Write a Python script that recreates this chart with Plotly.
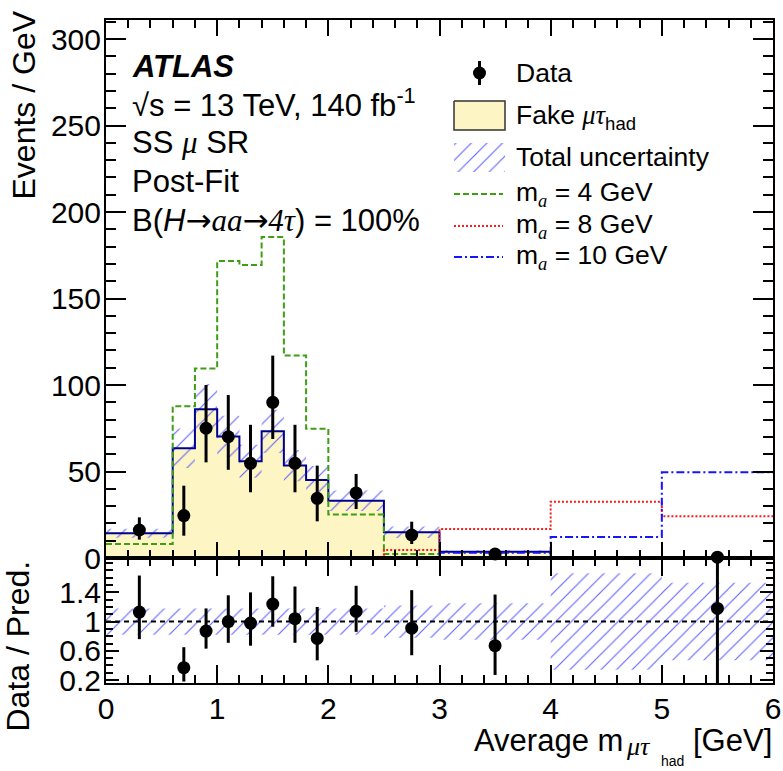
import plotly.graph_objects as go

# ---------------- data ----------------
edges = [0.0, 0.6, 0.8, 1.0, 1.2, 1.4, 1.6, 1.8, 2.0, 2.5, 3.0, 4.0, 5.0, 6.0]
fake = [14.3, 63.4, 86.0, 70.3, 55.9, 73.2, 53.4, 45.1, 33.1, 14.9, 3.6, 0.4, 0.4]
rel_unc = [0.18, 0.18, 0.17, 0.17, 0.17, 0.17, 0.17, 0.18, 0.18, 0.22, 0.25, 0.66, 0.53]
sig_m4 = [8.1, 87.7, 109.6, 171.7, 169.4, 185.5, 117.0, 74.7, 25.2, 2.3, 0.5, 0.1, 0.0]
sig_m8 = [0.1, 0.1, 0.1, 0.1, 0.1, 0.1, 0.1, 0.2, 0.5, 4.6, 16.8, 32.5, 24.1]
sig_m10 = [0.0, 0.0, 0.0, 0.0, 0.0, 0.0, 0.0, 0.1, 0.2, 0.5, 3.0, 12.1, 49.5]

data_x = [0.3, 0.7, 0.9, 1.1, 1.3, 1.5, 1.7, 1.9, 2.25, 2.75, 3.5, 5.5]
data_y = [16.2, 24.5, 75.0, 70.1, 54.7, 90.0, 54.7, 34.5, 37.6, 13.3, 2.3, 0.45]
data_up = [7.3, 17.3, 25.0, 24.1, 22.3, 27.0, 22.3, 18.9, 11.0, 7.7, 1.8, 1.0]
data_dn = [5.6, 11.6, 19.7, 19.1, 16.7, 21.2, 16.7, 13.3, 9.3, 5.2, 1.3, 0.45]

ratio_y = [1.13, 0.37, 0.87, 1.00, 0.98, 1.24, 1.04, 0.77, 1.14, 0.91, 0.67, 1.18]
ratio_up = [0.50, 0.28, 0.31, 0.36, 0.42, 0.38, 0.44, 0.43, 0.35, 0.52, 0.70, 1.00]
ratio_dn = [0.37, 0.19, 0.24, 0.29, 0.31, 0.31, 0.33, 0.30, 0.28, 0.37, 0.40, 1.18]

main_ticks = [0, 50, 100, 150, 200, 250, 300]
ratio_ticks = [0.2, 0.6, 1.0, 1.4]
ratio_ticktext = ["0.2", "0.6", "1", "1.4"]
x_ticks = [0, 1, 2, 3, 4, 5, 6]

# ---------------- style ----------------
W, H = 783, 771
FONT = "Liberation Sans, Arial, Helvetica, sans-serif"
SERIF = "Liberation Serif, Times New Roman, serif"
YELLOW = "#fdf5c3"
NAVY = "#00008f"
GREEN = "#3c9f14"
RED = "#ff1a1a"
BLUE = "#1414ff"
HATCH = "#6262ff"


def P(px):
    return px / W


def Q(py):
    return 1 - py / H


def step(vals):
    return list(vals) + [vals[-1]]


def band(lo_vals, hi_vals):
    xs, ys = [], []
    for i in range(len(lo_vals)):
        xs += [edges[i], edges[i + 1]]
        ys += [hi_vals[i], hi_vals[i]]
    for i in reversed(range(len(lo_vals))):
        xs += [edges[i + 1], edges[i]]
        ys += [lo_vals[i], lo_vals[i]]
    return xs, ys


hatch = dict(shape="/", fgcolor=HATCH, fgopacity=1, bgcolor="rgba(255,255,255,0)", size=11, solidity=0.1)

fig = go.Figure()

# main panel
fig.add_trace(go.Scatter(x=edges, y=step(fake), mode="lines", line_shape="hv",
                         line=dict(width=0, color=YELLOW), fill="tozeroy", fillcolor=YELLOW,
                         xaxis="x", yaxis="y", showlegend=False, hoverinfo="skip"))
bx, by = band([f * (1 - r) for f, r in zip(fake, rel_unc)], [f * (1 + r) for f, r in zip(fake, rel_unc)])
fig.add_trace(go.Scatter(x=bx, y=by, mode="lines", line=dict(width=0), fill="toself",
                         fillcolor="rgba(255,255,255,0)", fillpattern=hatch,
                         xaxis="x", yaxis="y", showlegend=False, hoverinfo="skip"))
fig.add_trace(go.Scatter(x=edges, y=step(fake), mode="lines", line_shape="hv",
                         line=dict(width=2, color=NAVY), xaxis="x", yaxis="y", showlegend=False))
fig.add_trace(go.Scatter(x=edges, y=step(sig_m4), mode="lines", line_shape="hv",
                         line=dict(width=2, color=GREEN, dash="6px,3px"), xaxis="x", yaxis="y", showlegend=False))
fig.add_trace(go.Scatter(x=edges, y=step(sig_m8), mode="lines", line_shape="hv",
                         line=dict(width=2, color=RED, dash="2px,2px"), xaxis="x", yaxis="y", showlegend=False))
fig.add_trace(go.Scatter(x=edges, y=step(sig_m10), mode="lines", line_shape="hv",
                         line=dict(width=2, color=BLUE, dash="8px,3px,2px,3px"), xaxis="x", yaxis="y", showlegend=False))
fig.add_trace(go.Scatter(x=data_x, y=data_y, mode="markers", marker=dict(size=13, color="black"),
                         error_y=dict(type="data", array=data_up, arrayminus=data_dn, color="black",
                                      thickness=3, width=0),
                         cliponaxis=False, xaxis="x", yaxis="y", showlegend=False))

# ratio panel
rx, ry = band([1 - r for r in rel_unc], [1 + r for r in rel_unc])
fig.add_trace(go.Scatter(x=rx, y=ry, mode="lines", line=dict(width=0), fill="toself",
                         fillcolor="rgba(255,255,255,0)", fillpattern=hatch,
                         xaxis="x2", yaxis="y2", showlegend=False, hoverinfo="skip"))
fig.add_trace(go.Scatter(x=[edges[0], edges[-1]], y=[1, 1], mode="lines",
                         line=dict(width=2, color="black", dash="5px,4px"),
                         xaxis="x2", yaxis="y2", showlegend=False))
fig.add_trace(go.Scatter(x=data_x, y=ratio_y, mode="markers", marker=dict(size=13, color="black"),
                         error_y=dict(type="data", array=ratio_up, arrayminus=ratio_dn, color="black",
                                      thickness=3, width=0),
                         xaxis="x2", yaxis="y2", showlegend=False))

# legend symbols on a hidden helper axis (pixel-like units)
LX0, LX1 = 454, 505
fig.add_trace(go.Scatter(x=[(LX0 + LX1) / 2], y=[73], mode="markers", marker=dict(size=13, color="black"),
                         error_y=dict(type="data", array=[12], arrayminus=[12], color="black", thickness=3, width=0),
                         xaxis="x3", yaxis="y3", showlegend=False))
fig.add_trace(go.Scatter(x=[LX0, LX1, LX1, LX0, LX0], y=[101, 101, 130, 130, 101], mode="lines",
                         line=dict(width=1.5, color="#333333"), fill="toself", fillcolor=YELLOW,
                         xaxis="x3", yaxis="y3", showlegend=False))
fig.add_trace(go.Scatter(x=[LX0, LX1, LX1, LX0, LX0], y=[143, 143, 172, 172, 143], mode="lines",
                         line=dict(width=0), fill="toself", fillcolor="rgba(255,255,255,0)", fillpattern=hatch,
                         xaxis="x3", yaxis="y3", showlegend=False))
for yy, col, dsh in [(194, GREEN, "6px,3px"), (226, RED, "2px,2px"), (257, BLUE, "8px,3px,2px,3px")]:
    fig.add_trace(go.Scatter(x=[LX0, LX1 - 2], y=[yy, yy], mode="lines",
                             line=dict(width=2, color=col, dash=dsh),
                             xaxis="x3", yaxis="y3", showlegend=False))

# ---------------- axes ----------------
XL, XR = 106, 773
YT, YM, YB = 20, 558, 683
tickfont = dict(family=FONT, size=30, color="black")
common = dict(showline=True, linecolor="black", linewidth=2, mirror="allticks",
              ticks="inside", showgrid=False, zeroline=False, tickfont=tickfont, tickcolor="black",
              automargin=False)

fig.update_layout(
    width=W, height=H, margin=dict(l=0, r=0, t=0, b=0, pad=0, autoexpand=False),
    paper_bgcolor="white", plot_bgcolor="white",
    font=dict(family=FONT, color="black"),
    xaxis=dict(domain=[P(XL), P(XR)], range=[0, 6], anchor="y", showticklabels=False,
               tickvals=x_ticks, ticklen=16, tickwidth=2,
               minor=dict(dtick=0.2, ticklen=8, tickwidth=1.5, ticks="inside", tickcolor="black"),
               **common),
    yaxis=dict(domain=[Q(YM), Q(YT)], range=[0, 311], anchor="x",
               tickvals=main_ticks, ticklen=20, tickwidth=2, ticklabelstandoff=-3,
               minor=dict(dtick=10, ticklen=10, tickwidth=1.5, ticks="inside", tickcolor="black"),
               **common),
    xaxis2=dict(domain=[P(XL), P(XR)], range=[0, 6], anchor="y2",
                tickvals=x_ticks, ticklen=18, tickwidth=2, ticklabelstandoff=-2,
                minor=dict(dtick=0.2, ticklen=8, tickwidth=1.5, ticks="inside", tickcolor="black"),
                **common),
    yaxis2=dict(domain=[Q(YB), Q(YM)], range=[0.16, 1.87], anchor="x2",
                tickvals=ratio_ticks, ticktext=ratio_ticktext, ticklen=13, tickwidth=2,
                ticklabelstandoff=-3,
                minor=dict(dtick=0.1, ticklen=7, tickwidth=1.5, ticks="inside", tickcolor="black"),
                **common),
    xaxis3=dict(domain=[P(440), P(520)], range=[440, 520], anchor="y3", visible=False),
    yaxis3=dict(domain=[Q(280), Q(50)], range=[280, 50], anchor="x3", visible=False),
)

ann = []


def text(x, y, s, size, xanchor="left", yanchor="middle", angle=0):
    ann.append(dict(x=P(x), y=Q(y), xref="paper", yref="paper", text=s, showarrow=False,
                    xanchor=xanchor, yanchor=yanchor, textangle=angle, borderpad=0,
                    font=dict(family=FONT, size=size, color="black")))


def it(s):
    return f'<span style="font-family:{SERIF};font-style:italic">{s}</span>'


def arrow():
    return '<span style="font-family:DejaVu Sans">→</span>'


text(131, 66, "<b><i>ATLAS</i></b>", 31)
text(131, 103, "√s = 13 TeV, 140 fb<sup>-1</sup>", 31)
text(131, 142, "SS " + it("μ") + " SR", 31)
text(131, 181, "Post-Fit", 31)
text(131, 220, "B(<i>H</i>" + arrow() + it("aa") + arrow() + it("4τ") + ") = 100%", 31)

text(515, 73, "Data", 26.5)
text(515, 117, "Fake " + it("μτ") + "<sub>had</sub>", 26.5)
text(515, 157, "Total uncertainty", 26.5)
text(515, 194, "m<sub>" + it("a") + "</sub> = 4 GeV", 26.5)
text(515, 226, "m<sub>" + it("a") + "</sub> = 8 GeV", 26.5)
text(515, 257, "m<sub>" + it("a") + "</sub> = 10 GeV", 26.5)

text(24, 10, "Events / GeV", 32, xanchor="center", yanchor="top", angle=-90)
text(17, 560, "Data / Pred.", 32, xanchor="center", yanchor="top", angle=-90)

# x-axis title, built from pieces: Average m_{mu tau_{had}} [GeV]
text(624, 740, "Average m", 31, xanchor="right")
text(625, 746, it("μτ"), 26)
text(660, 761, "had", 14)
text(773, 740, "[GeV]", 31, xanchor="right")

fig.update_layout(annotations=ann)
fig.write_html("out.html")
